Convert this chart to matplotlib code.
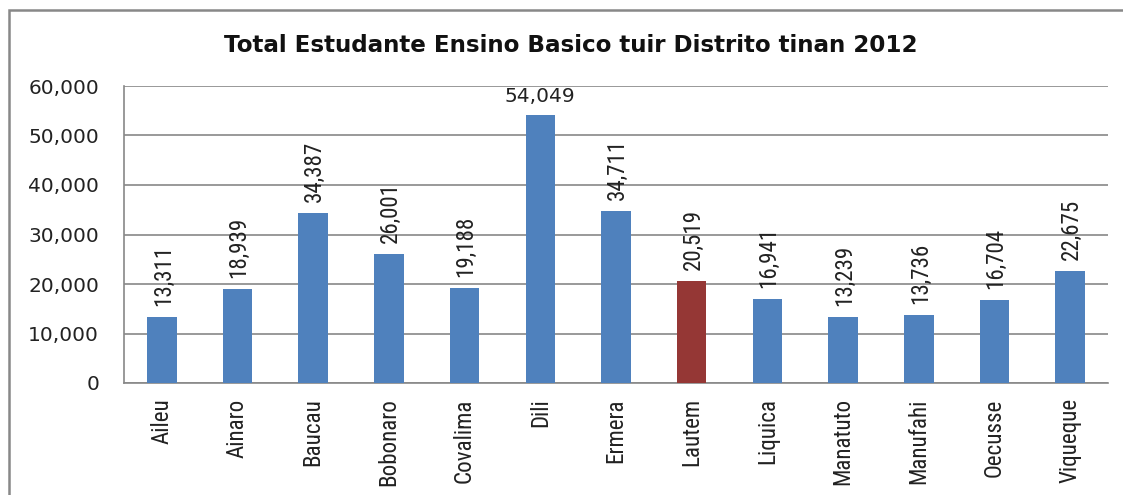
import matplotlib
matplotlib.use("Agg")
import matplotlib.pyplot as plt
from matplotlib import font_manager
from matplotlib.patches import Rectangle
from matplotlib.ticker import FuncFormatter

# Data
districts = ["Aileu", "Ainaro", "Baucau", "Bobonaro", "Covalima", "Dili", "Ermera",
             "Lautem", "Liquica", "Manatuto", "Manufahi", "Oecusse", "Viqueque"]
students = [13311, 18939, 34387, 26001, 19188, 54049, 34711,
            20519, 16941, 13239, 13736, 16704, 22675]
highlight = "Lautem"

y_ticks = [0, 10000, 20000, 30000, 40000, 50000, 60000]

BLUE = "#4F81BD"
RED = "#953735"
GRID = "#888888"

# narrow font for the rotated texts if one is installed, else plain DejaVu
fonts = font_manager.fontManager.ttflist
names = {f.name for f in fonts}
narrow = {"family": "DejaVu Sans"}
narrow_size = 13
if "Liberation Sans Narrow" in names:
    narrow, narrow_size = {"family": "Liberation Sans Narrow"}, 17.5
elif "Roboto Condensed" in names:
    narrow, narrow_size = {"family": "Roboto Condensed"}, 16.6
elif any(f.name == "DejaVu Sans" and f.stretch == "condensed" for f in fonts):
    narrow, narrow_size = {"family": "DejaVu Sans", "stretch": "condensed"}, 14.6

W, H = 1123, 495
fig = plt.figure(figsize=(W / 100, H / 100), dpi=100)
ax = fig.add_axes([124 / W, 1 - 383 / H, (1108 - 124) / W, (383 - 86) / H])

colors = [RED if d == highlight else BLUE for d in districts]
x = range(len(districts))
bars = ax.bar(x, students, width=0.39, color=colors, zorder=3)

ax.set_xlim(-0.5, len(districts) - 0.5)
ax.set_ylim(0, 60000)
ax.set_yticks(y_ticks)
ax.yaxis.set_major_formatter(FuncFormatter(lambda v, p: f"{int(v):,}"))
ax.yaxis.grid(True, color=GRID, linewidth=1.2, zorder=0)

ax.set_xticks(list(x))
ax.set_xticklabels(districts, rotation=90, fontsize=narrow_size, color="#222222", **narrow)
ax.tick_params(axis="x", length=0, pad=11)
ax.tick_params(axis="y", length=0, pad=18, labelsize=14.5, labelcolor="#222222")

for s in ["top", "right"]:
    ax.spines[s].set_visible(False)
for s in ["left", "bottom"]:
    ax.spines[s].set_color(GRID)
    ax.spines[s].set_linewidth(1.2)

# value labels (the tallest one lies flat, the others stand up)
for b, v in zip(bars, students):
    cx = b.get_x() + b.get_width() / 2
    if v > 50000:
        ax.annotate(f"{v:,}", (cx, v), xytext=(0, 10), textcoords="offset points",
                    ha="center", va="baseline", fontsize=14.5, color="#222222")
    else:
        ax.annotate(f"{v:,}", (cx, v), xytext=(1, 8), textcoords="offset points",
                    ha="center", va="bottom", rotation=90,
                    fontsize=narrow_size, color="#222222", **narrow)

fig.text(571 / W, 1 - 45 / H, "Total Estudante Ensino Basico tuir Distrito tinan 2012",
         ha="center", va="center", fontsize=16.6, fontweight="bold", color="#111111")

# chart frame, cut off at the right and bottom like the reference
fig.add_artist(Rectangle((8.5 / W, -0.2), 2, 1.2 - 9.5 / H, transform=fig.transFigure,
                         fill=False, edgecolor="#888888", linewidth=1.8))

fig.savefig("out.png", dpi=100)
